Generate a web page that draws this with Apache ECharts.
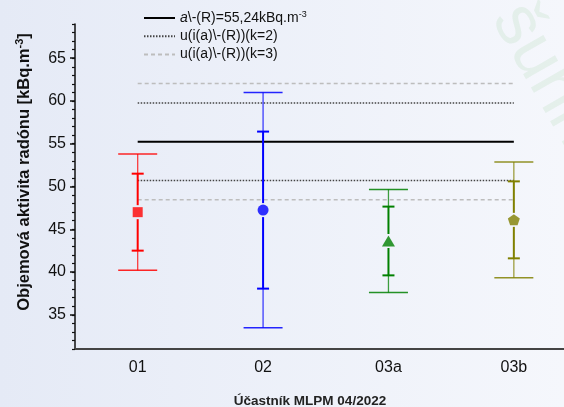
<!DOCTYPE html>
<html>
<head>
<meta charset="utf-8">
<script src="https://cdn.jsdelivr.net/npm/echarts@6/dist/echarts.min.js"></script>
<style>
  html, body { margin: 0; padding: 0; }
  #chart { width: 564px; height: 407px; }
</style>
</head>
<body>
<div id="chart"></div>
<script>
// participants and their results (mean, u k=2, u k=3) in kBq.m-3
const participants = ['01', '02', '03a', '03b'];
const means = [47.0, 47.24, 43.63, 46.1];
const uInner = [4.5, 9.18, 4.02, 4.5];
const uOuter = [6.8, 13.76, 6.03, 6.76];

// reference value and its uncertainties
const refValue = 55.24;
const refUk2 = 4.53;
const refUk3 = 6.8;

// axis ticks
const yLabelTicks = [35, 40, 45, 50, 55, 60, 65];
const yMinorTicks = [31, 32, 33, 34, 35, 36, 37, 38, 39, 40, 41, 42, 43, 44, 45, 46, 47, 48, 49, 50,
    51, 52, 53, 54, 55, 56, 57, 58, 59, 60, 61, 62, 63, 64, 65, 66, 67, 68, 69];
const xTicks = [1, 2, 3, 4];

// styles per participant
const colors = ['#ff0000', '#0000ff', '#008000', '#808000'];
const symbols = ['rect', 'circle', 'triangle', 'path://M0,-10 L9.51,-3.09 L5.88,8.09 L-5.88,8.09 L-9.51,-3.09 Z'];
const symbolSizes = [[10, 10], 11, [13, 11], [12, 11]];

const legendText = {
    ref: '{i|a}\\-(R)=55,24kBq.m{sup|-3}',
    k2: 'u(i(a)\\-(R))(k=2)',
    k3: 'u(i(a)\\-(R))(k=3)',
};

const chart = echarts.init(document.getElementById('chart'), null, { renderer: 'canvas' });

const first = xTicks[0], last = xTicks[xTicks.length - 1];
const hLine = (name, y, style) => ({
    name, type: 'line', symbol: 'none', silent: true, z: 2,
    itemStyle: { color: style.color },
    lineStyle: style,
    data: [[first, y], [last, y]],
});

const dotted = { color: '#444', width: 1.5, type: [1.5, 1.5] };
const dashed = { color: '#bdbdbd', width: 1.5, type: [4, 3] };
const font = 'Liberation Sans, Arial, sans-serif';

chart.setOption({
    backgroundColor: new echarts.graphic.LinearGradient(0, 0, 1, 0, [
        { offset: 0, color: '#e5eaf6' },
        { offset: 1, color: '#f5f7fc' },
    ]),
    textStyle: { fontFamily: font },
    animation: false,
    grid: { left: 75, right: 0, top: 24, bottom: 58 },
    legend: {
        orient: 'vertical', left: 143, top: 10, padding: 0,
        itemWidth: 31, itemHeight: 14, itemGap: 4.3,
        itemStyle: { opacity: 0 },
        data: ['ref', 'k2', 'k3'],
        formatter: (n) => legendText[n],
        textStyle: {
            fontSize: 14, color: '#111', fontFamily: font,
            rich: {
                i: { fontSize: 14, fontStyle: 'italic', fontFamily: font, color: '#111' },
                sup: { fontSize: 9, fontFamily: font, color: '#111', verticalAlign: 'top', padding: [0, 0, 7, 0] },
            },
        },
    },
    graphic: [
        {
            type: 'text', left: 478, top: -8, rotation: -1.05, silent: true, z: -1,
            style: { text: 'šuhn', font: '70px Liberation Sans', fill: 'rgba(120,190,120,0.13)' },
        },
        {
            type: 'text', x: 24, y: 172, rotation: Math.PI / 2, silent: true,
            style: {
                text: 'Objemová aktivita radónu [kBq.m{sup|-3}]',
                font: 'bold 16.5px Liberation Sans', fill: '#111',
                align: 'center', verticalAlign: 'middle',
                rich: {
                    sup: { font: 'bold 11px Liberation Sans', fill: '#111', verticalAlign: 'top', padding: [0, 0, 8, 0] },
                },
            },
        },
        {
            type: 'text', x: 310, y: 401, silent: true,
            style: {
                text: 'Účastník MLPM 04/2022', font: 'bold 13.5px Liberation Sans', fill: '#222',
                align: 'center', verticalAlign: 'middle',
            },
        },
    ],
    xAxis: {
        type: 'value', min: 0.5, max: 4.4,
        axisLine: { lineStyle: { color: '#444', width: 2 } },
        axisTick: { show: false },
        splitLine: { show: false },
        axisLabel: {
            customValues: xTicks, margin: 11, fontSize: 16, color: '#111',
            formatter: (v) => participants[Math.round(v) - 1] || '',
        },
    },
    yAxis: [
        {
            type: 'value', min: 31, max: 69,
            axisLine: { show: true, lineStyle: { color: '#111', width: 1.5 } },
            axisTick: { show: true, customValues: yMinorTicks, length: 3, lineStyle: { color: '#111', width: 1.2 } },
            axisLabel: { customValues: yLabelTicks, margin: 9, fontSize: 16, color: '#111' },
            splitLine: { show: false },
        },
        {
            type: 'value', min: 31, max: 69, position: 'left',
            axisLine: { show: false },
            axisTick: { show: true, customValues: yLabelTicks, length: 5, lineStyle: { color: '#111', width: 1.5 } },
            axisLabel: { show: false },
            splitLine: { show: false },
        },
    ],
    series: [
        hLine('ref', refValue, { color: '#000', width: 2, type: 'solid' }),
        hLine('k2', refValue + refUk2, dotted),
        hLine('k2', refValue - refUk2, dotted),
        hLine('k3', refValue + refUk3, dashed),
        hLine('k3', refValue - refUk3, dashed),
        {
            name: 'bars', type: 'custom', z: 3, silent: true,
            data: means.map((m, i) => [xTicks[i], m, uInner[i], uOuter[i]]),
            encode: { x: 0, y: 1 },
            renderItem: (params, api) => {
                const x = api.value(0), m = api.value(1), a = api.value(2), b = api.value(3);
                const c = colors[params.dataIndex];
                const pm = api.coord([x, m]);
                const X = pm[0];
                const yi1 = api.coord([x, m + a])[1], yi0 = api.coord([x, m - a])[1];
                const yo1 = api.coord([x, m + b])[1], yo0 = api.coord([x, m - b])[1];
                const gap = 7;
                const seg = (x1, y1, x2, y2, w, op) => ({
                    type: 'line', shape: { x1, y1, x2, y2 },
                    style: { stroke: c, lineWidth: w, opacity: op },
                });
                return {
                    type: 'group',
                    children: [
                        seg(X, yo1, X, yi1, 1.3, 0.75),
                        seg(X, yi1, X, pm[1] - gap, 2, 1),
                        seg(X, pm[1] + gap, X, yi0, 2, 1),
                        seg(X, yi0, X, yo0, 1.3, 0.75),
                        seg(X - 19.5, yo1, X + 19.5, yo1, 1.5, 0.85),
                        seg(X - 19.5, yo0, X + 19.5, yo0, 1.5, 0.85),
                        seg(X - 6, yi1, X + 6, yi1, 2, 1),
                        seg(X - 6, yi0, X + 6, yi0, 2, 1),
                    ],
                };
            },
        },
        {
            name: 'marks', type: 'scatter', z: 4, silent: true,
            data: means.map((m, i) => ({
                value: [xTicks[i], m],
                symbol: symbols[i], symbolSize: symbolSizes[i],
                itemStyle: { color: colors[i] },
            })),
        },
    ],
});
</script>
</body>
</html>
